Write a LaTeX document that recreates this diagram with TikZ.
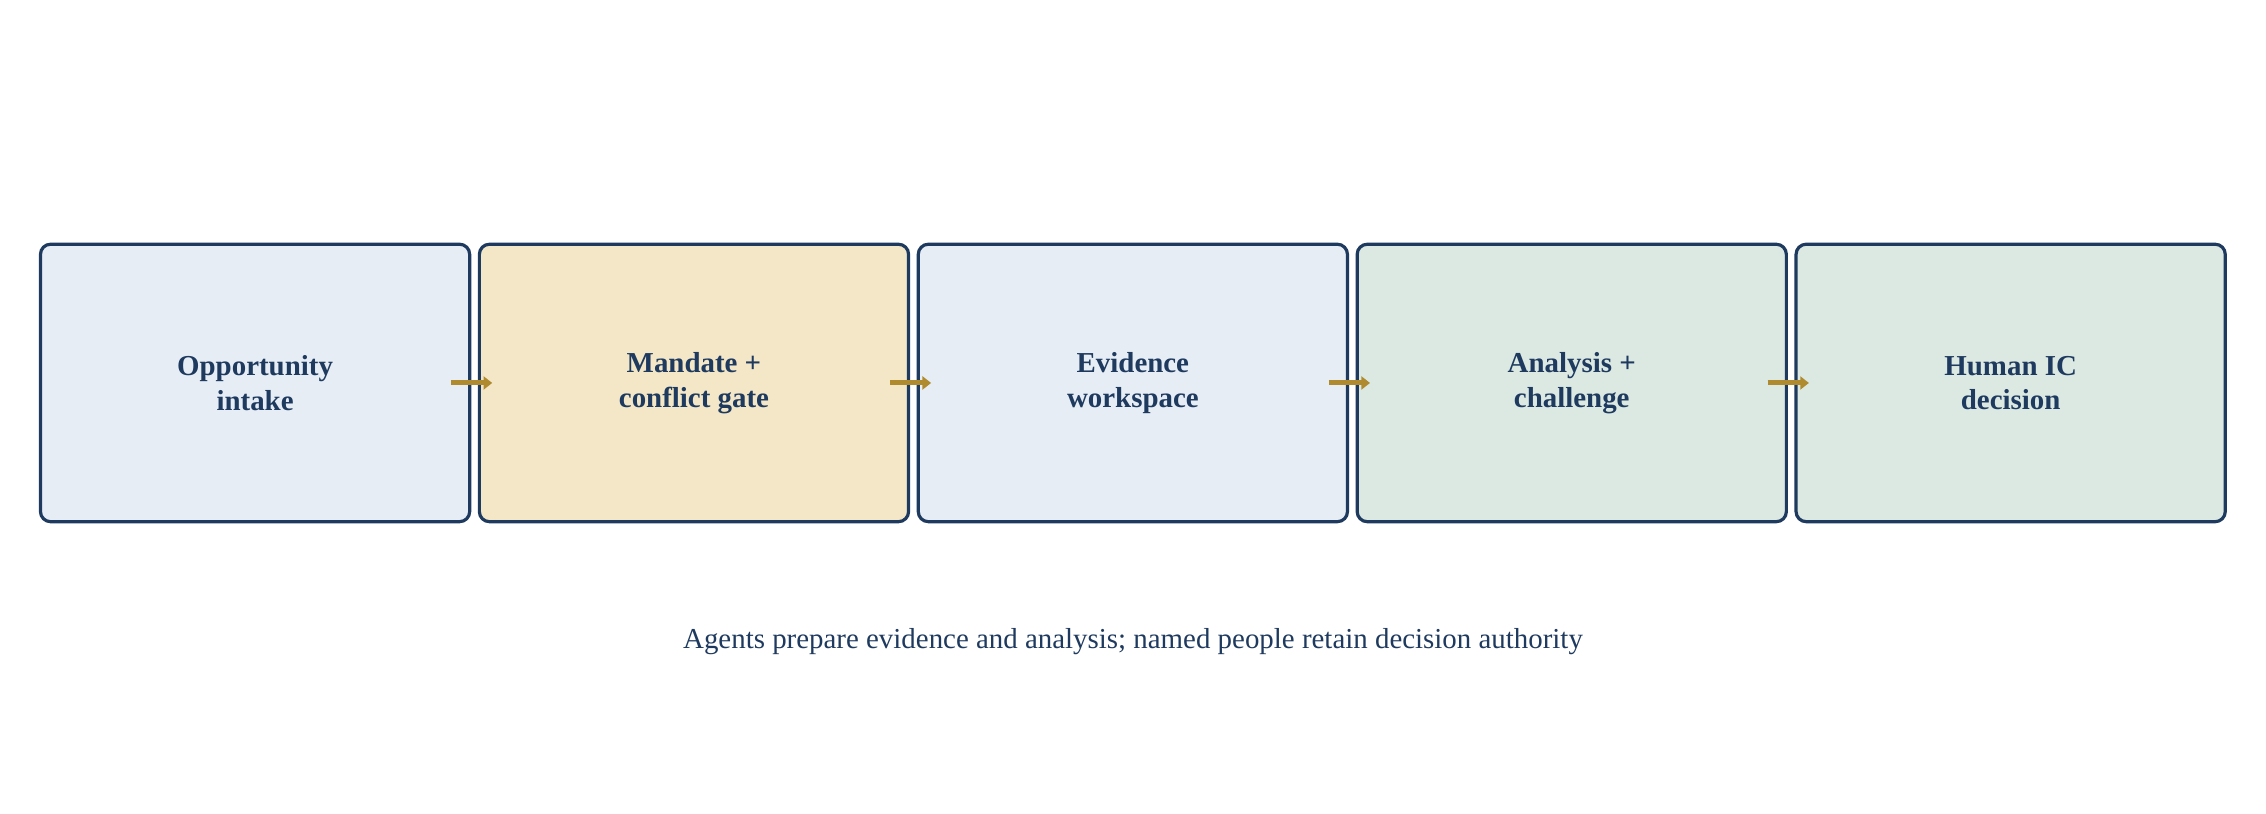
\documentclass[tikz,border=0pt]{standalone}
\usepackage{fontspec}
\setmainfont{Liberation Serif}
\usetikzlibrary{positioning,arrows.meta}
\definecolor{navy}{HTML}{1F3A5F}
\definecolor{gold}{HTML}{B08A2E}
\definecolor{paleblue}{HTML}{E6EDF5}
\definecolor{paleyellow}{HTML}{F3E7C7}
\definecolor{palegreen}{HTML}{DCE9E2}
\begin{document}
\begin{tikzpicture}[x=1pt,y=1pt,
  stage/.style={draw=navy,line width=2.2pt,rounded corners=7pt,minimum width=297pt,minimum height=192pt,
    align=center,text=navy,font=\fontsize{20}{24}\selectfont\bfseries,inner sep=0pt},
  flow/.style={-{Triangle[length=6pt,width=9pt]},gold,line width=3.5pt}]
\useasboundingbox (0,0) rectangle (1568,563);
%%
\node (stage_1) at (176.5,298) [stage,fill=paleblue] {Opportunity\\intake};
  \node (stage_2) [stage,fill=paleyellow,right=4.5pt of stage_1] {Mandate +\\conflict gate};
  \node (stage_3) [stage,fill=paleblue,right=4.5pt of stage_2] {Evidence\\workspace};
  \node (stage_4) [stage,fill=palegreen,right=4.5pt of stage_3] {Analysis +\\challenge};
  \node (stage_5) [stage,fill=palegreen,right=4.5pt of stage_4] {Human IC\\decision};
  \node (caption) at (784,119) [text=navy,font=\fontsize{20}{24}\selectfont] {Agents prepare evidence and analysis; named people retain decision authority};
  \draw [flow] ([xshift=-14pt]stage_1.east) -- ([xshift=10pt]stage_2.west);
  \draw [flow] ([xshift=-14pt]stage_2.east) -- ([xshift=10pt]stage_3.west);
  \draw [flow] ([xshift=-14pt]stage_3.east) -- ([xshift=10pt]stage_4.west);
  \draw [flow] ([xshift=-14pt]stage_4.east) -- ([xshift=10pt]stage_5.west);
%
\end{tikzpicture}
\end{document}
